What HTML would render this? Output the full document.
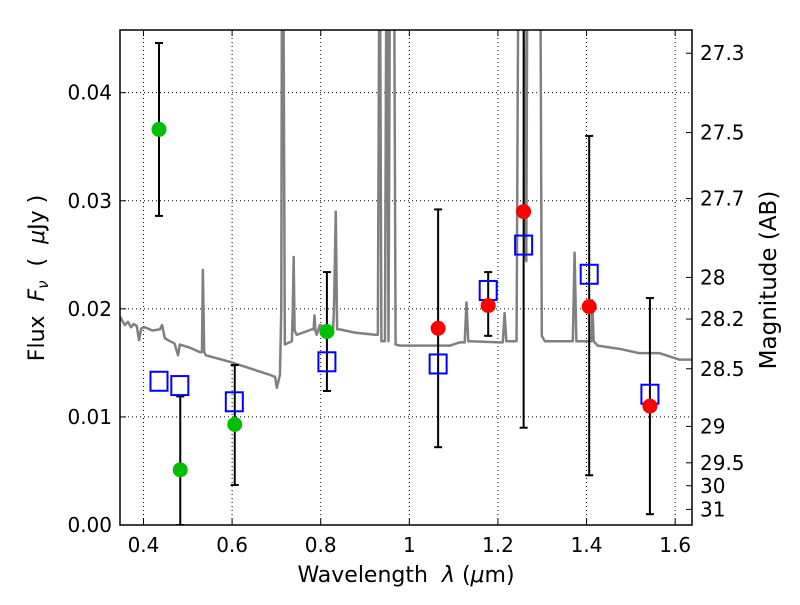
<!DOCTYPE html>
<html><head><meta charset="utf-8"><style>
body{margin:0;background:#fff}
svg text{font-family:"DejaVu Sans","Liberation Sans",sans-serif;fill:#000;white-space:pre}
</style></head><body>
<svg id="chart" width="800" height="600" xmlns="http://www.w3.org/2000/svg"></svg>
<script>
const specLam=[0.347,0.352,0.358,0.365,0.372,0.378,0.385,0.390,0.395,0.403,0.420,0.437,0.442,0.448,0.460,0.470,0.478,0.482,0.505,0.527,0.532,0.534,0.537,0.541,0.595,0.640,0.685,0.697,0.701,0.708,0.711,0.713,0.715,0.719,0.735,0.737,0.739,0.741,0.746,0.780,0.784,0.786,0.788,0.791,0.798,0.828,0.830,0.834,0.837,0.843,0.877,0.922,0.929,0.933,0.937,0.945,0.949,0.953,0.957,0.961,0.965,0.969,0.978,1.024,1.092,1.114,1.125,1.129,1.133,1.136,1.204,1.211,1.215,1.219,1.222,1.242,1.247,1.252,1.258,1.262,1.264,1.267,1.271,1.280,1.295,1.299,1.306,1.362,1.369,1.373,1.377,1.384,1.411,1.413,1.416,1.425,1.474,1.519,1.565,1.610,1.637];
const specFlux=[0.0193,0.0189,0.0185,0.0188,0.0183,0.0186,0.0184,0.0171,0.0182,0.0183,0.0180,0.0181,0.0185,0.0173,0.0170,0.0168,0.0157,0.0167,0.0164,0.0160,0.0160,0.0236,0.0160,0.0157,0.0151,0.0145,0.0139,0.0137,0.0127,0.0139,0.0200,0.0600,0.0600,0.0167,0.0170,0.0200,0.0248,0.0180,0.0176,0.0181,0.0181,0.0194,0.0180,0.0176,0.0185,0.0181,0.0200,0.0290,0.0181,0.0181,0.0178,0.0176,0.0176,0.0600,0.0170,0.0170,0.0600,0.0170,0.0600,0.0600,0.0600,0.0167,0.0166,0.0166,0.0166,0.0169,0.0169,0.0206,0.0170,0.0170,0.0169,0.0169,0.0196,0.0170,0.0170,0.0170,0.0600,0.0600,0.0600,0.0250,0.0244,0.0600,0.0600,0.0600,0.0600,0.0175,0.0170,0.0170,0.0170,0.0252,0.0170,0.0170,0.0170,0.0208,0.0170,0.0166,0.0163,0.0159,0.0159,0.0153,0.0153];
const greenLam=[0.435,0.483,0.606,0.814];
const greenFlux=[0.0366,0.0051,0.0093,0.0179];
const greenLo=[0.0286,0.0,0.0037,0.0124];
const greenHi=[0.0446,0.0119,0.0148,0.0234];
const redLam=[1.065,1.178,1.258,1.406,1.543];
const redFlux=[0.0182,0.0203,0.0290,0.0202,0.0110];
const redLo=[0.0072,0.0175,0.0090,0.0046,0.0010];
const redHi=[0.0292,0.0234,0.0600,0.0360,0.0210];
const boxLam=[0.435,0.482,0.605,0.814,1.065,1.178,1.258,1.406,1.543];
const boxFlux=[0.0133,0.0129,0.0114,0.0151,0.0149,0.0217,0.0259,0.0232,0.0121];
const xTicks=[0.4,0.6,0.8,1.0,1.2,1.4,1.6];
const xTickLabels=["0.4","0.6","0.8","1","1.2","1.4","1.6"];
const yTicks=[0,0.01,0.02,0.03,0.04];
const yTickLabels=["0.00","0.01","0.02","0.03","0.04"];
const magTicks=[27.3,27.5,27.7,28,28.2,28.5,29,29.5,30,31];

const L=120,R=692,T=30,B=525,xmin=0.347,xmax=1.638,ymin=0,ymax=0.0458;
const X=v=>L+(v-xmin)/(xmax-xmin)*(R-L);
const Y=v=>B-(v-ymin)/(ymax-ymin)*(B-T);
const svg=document.getElementById('chart');
const NS='http://www.w3.org/2000/svg';
function mk(tag,attrs,parent){const e=document.createElementNS(NS,tag);for(const k in attrs)e.setAttribute(k,attrs[k]);(parent||svg).appendChild(e);return e;}
const defs=mk('defs',{});const cp=mk('clipPath',{id:'clip'},defs);mk('rect',{x:L,y:T,width:R-L,height:B-T},cp);

xTicks.forEach(v=>{const g=mk('line',{x1:X(v),x2:X(v),y1:T,y2:B,stroke:'#000','stroke-dasharray':'1,3','stroke-width':1});

});
yTicks.forEach(v=>{const g=mk('line',{x1:L,x2:R,y1:Y(v),y2:Y(v),stroke:'#000','stroke-dasharray':'1,3','stroke-width':1});

});

const plot=mk('g',{'clip-path':'url(#clip)'});


const sp=mk('polyline',{points:specLam.map((l,i)=>X(l)+','+Y(specFlux[i])).join(' '),fill:'none',stroke:'#808080','stroke-width':2.5,'stroke-linejoin':'round'},plot);



function errbar(l,lo,hi,name){const g=mk('g',{},plot);


mk('line',{x1:X(l),x2:X(l),y1:Y(lo),y2:Y(hi),stroke:'#000','stroke-width':2},g);
mk('line',{x1:X(l)-4,x2:X(l)+4,y1:Y(lo),y2:Y(lo),stroke:'#000','stroke-width':2},g);
mk('line',{x1:X(l)-4,x2:X(l)+4,y1:Y(hi),y2:Y(hi),stroke:'#000','stroke-width':2},g);}
greenLam.forEach((l,i)=>errbar(l,greenLo[i],greenHi[i],'green-error-bar'));
redLam.forEach((l,i)=>errbar(l,redLo[i],redHi[i],'red-error-bar'));
boxLam.forEach((l,i)=>{const r=mk('rect',{x:X(l)-8.5,y:Y(boxFlux[i])-9.5,width:17,height:19,fill:'none',stroke:'#0000ff','stroke-width':2},plot);

});
greenLam.forEach((l,i)=>{const c=mk('circle',{cx:X(l),cy:Y(greenFlux[i]),r:7.5,fill:'#00bf00'},plot);

});
redLam.forEach((l,i)=>{const c=mk('circle',{cx:X(l),cy:Y(redFlux[i]),r:7.5,fill:'#ff0000'},plot);

});

const fr=mk('rect',{x:L,y:T,width:R-L,height:B-T,fill:'none',stroke:'#000','stroke-width':1.5});



xTicks.forEach((v,i)=>{mk('line',{x1:X(v),x2:X(v),y1:B,y2:B-6,stroke:'#000'});mk('line',{x1:X(v),x2:X(v),y1:T,y2:T+6,stroke:'#000'});
const t=mk('text',{x:X(v),y:B+27,'text-anchor':'middle','font-size':20});t.textContent=xTickLabels[i];

});
yTicks.forEach((v,i)=>{mk('line',{x1:L,x2:L+6,y1:Y(v),y2:Y(v),stroke:'#000'});
const t=mk('text',{x:L-8,y:Y(v)+7,'text-anchor':'end','font-size':20});t.textContent=yTickLabels[i];

});
magTicks.forEach(m=>{const f=Math.pow(10,(23.9-m)/2.5);mk('line',{x1:R,x2:R-6,y1:Y(f),y2:Y(f),stroke:'#000'});
const t=mk('text',{x:R+8,y:Y(f)+7,'font-size':20});t.textContent=String(m);

});

const xl=mk('text',{x:406,y:582,'text-anchor':'middle','font-size':22});
xl.innerHTML='Wavelength  <tspan font-style="italic">λ</tspan> (<tspan font-style="italic">μ</tspan>m)';


const yl=mk('text',{x:0,y:0,'text-anchor':'middle','font-size':22,transform:'translate(44,278) rotate(-90)'});
yl.innerHTML='Flux  <tspan font-style="italic">F</tspan><tspan font-style="italic" font-size="15" dy="4">ν</tspan><tspan dy="-4">  (  </tspan><tspan font-style="italic">μ</tspan>Jy )';


const rl=mk('text',{x:0,y:0,'text-anchor':'middle','font-size':23,transform:'translate(776,280) rotate(-90)'});
rl.textContent='Magnitude (AB)';


</script>
</body></html>
